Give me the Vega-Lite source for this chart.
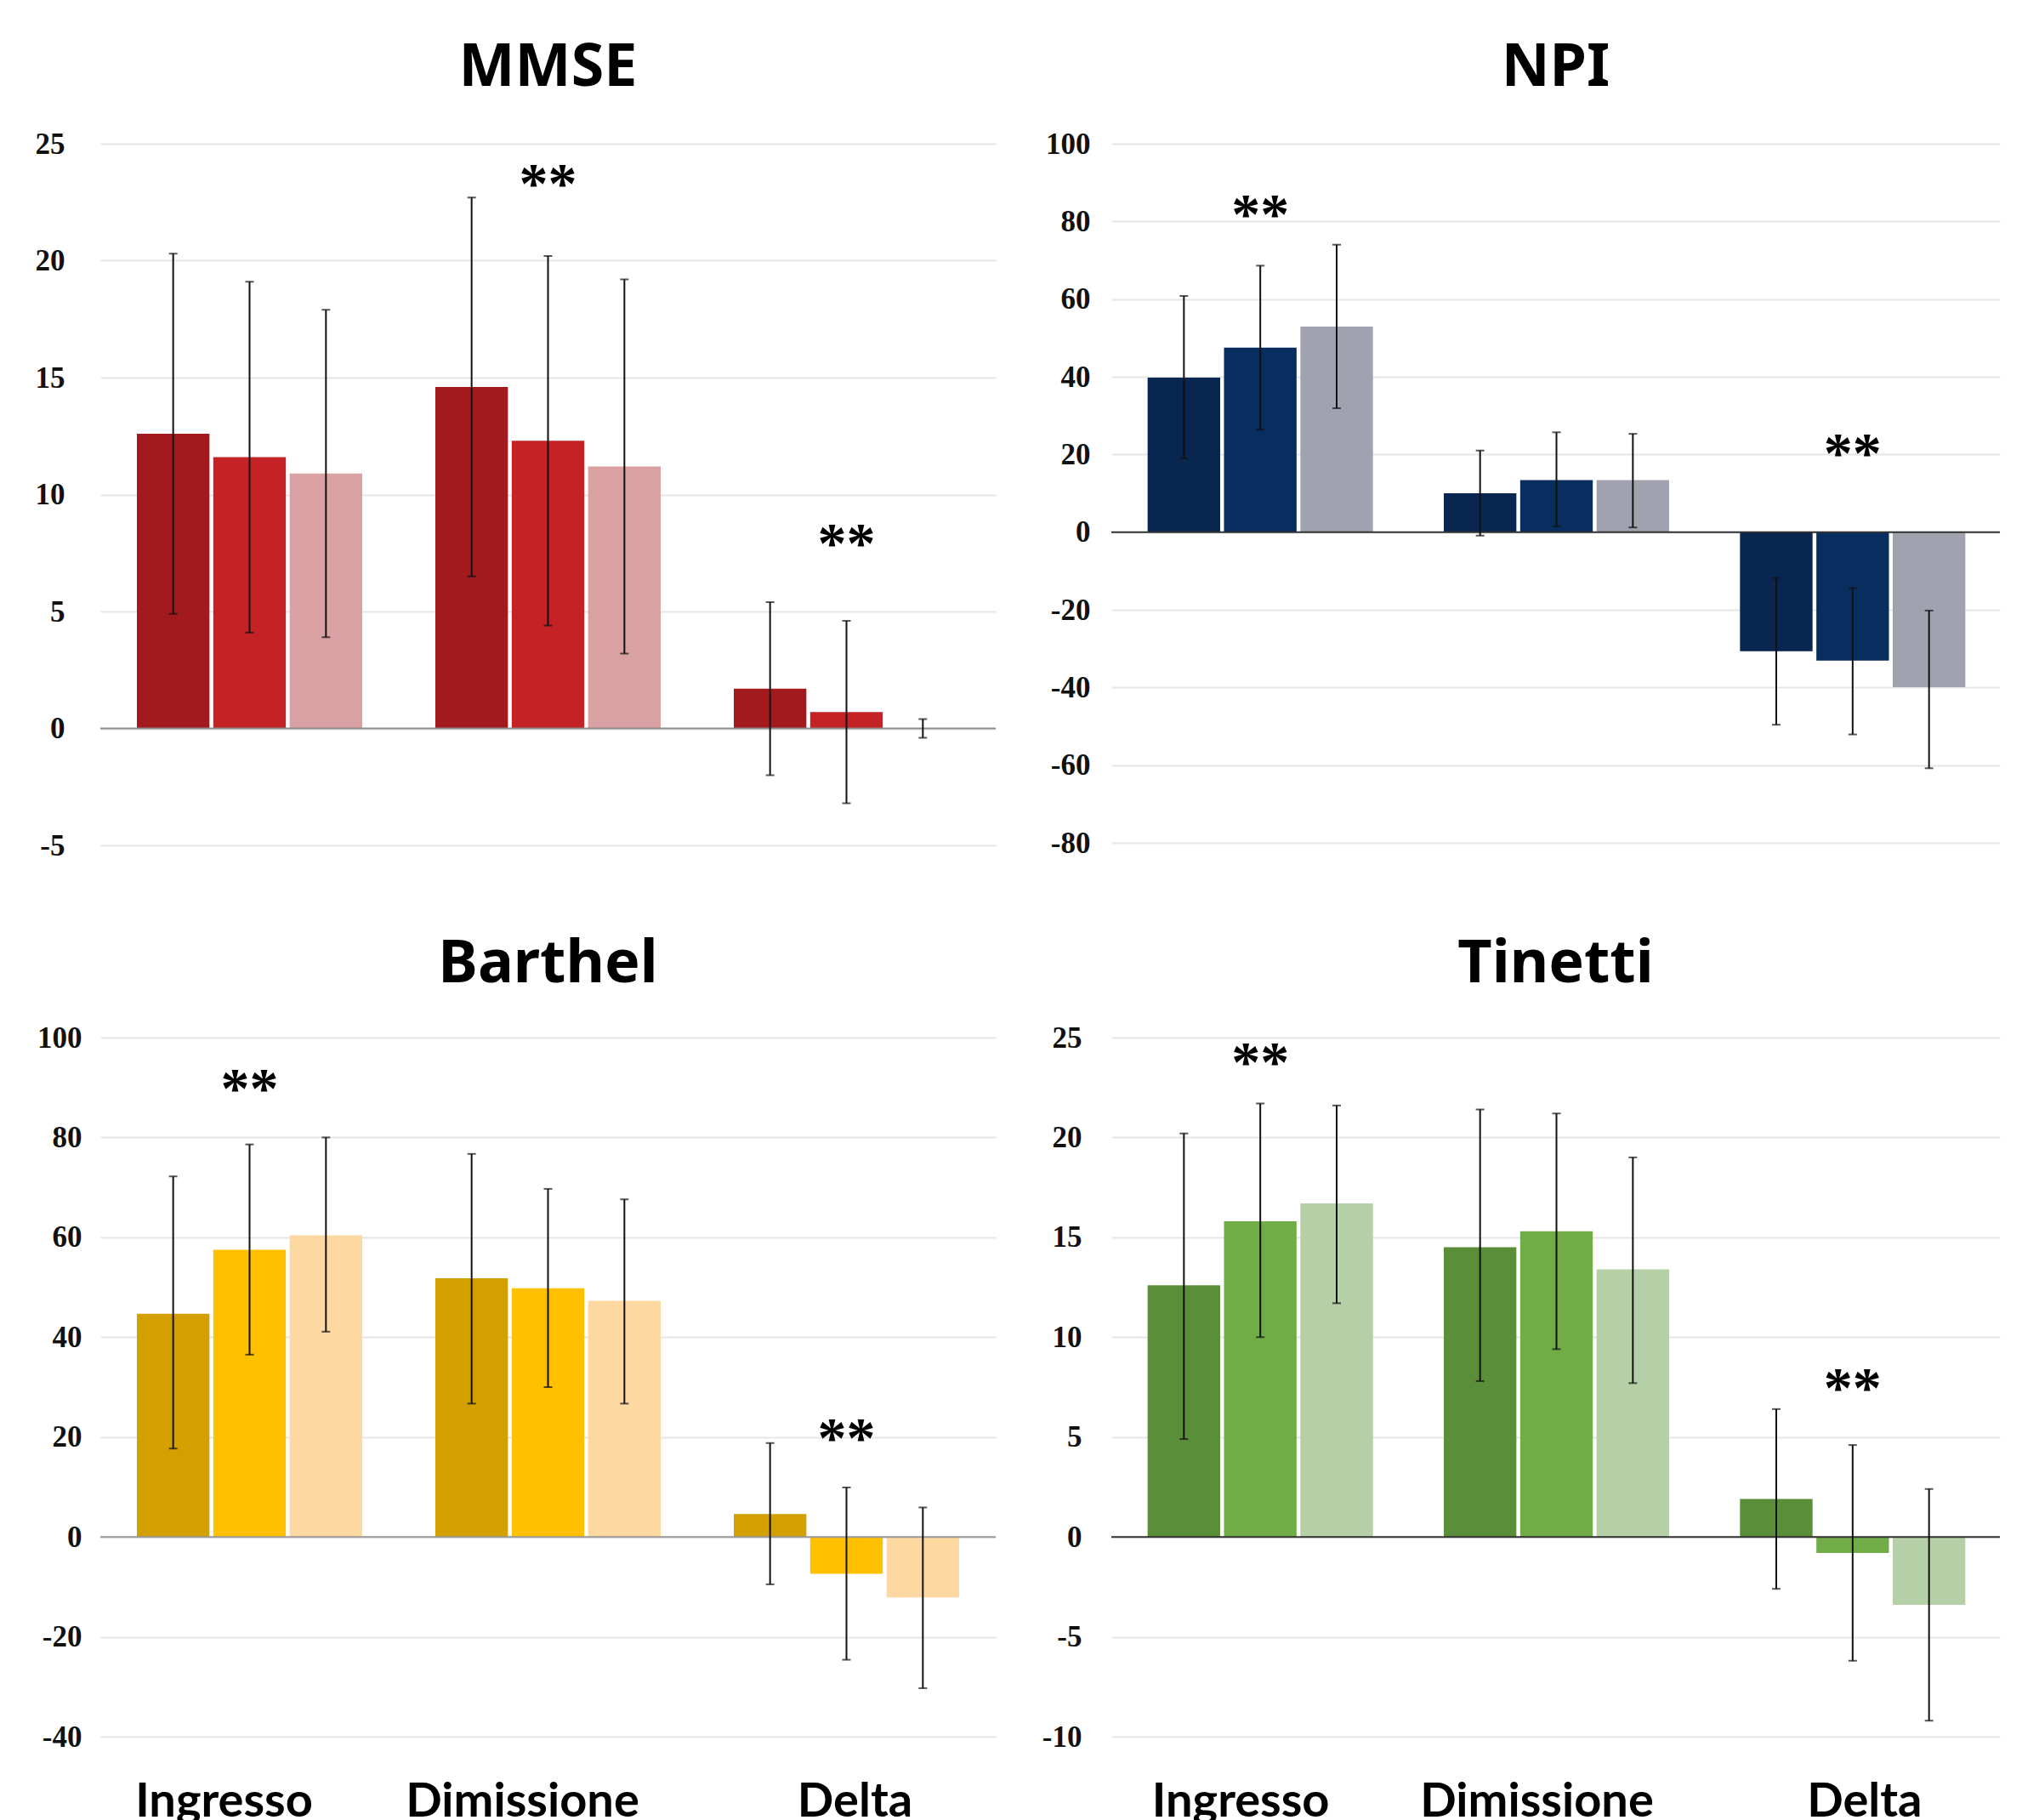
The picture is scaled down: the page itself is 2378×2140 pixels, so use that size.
{
  "$schema": "https://vega.github.io/schema/vega-lite/v6.json",
  "background": "white",
  "padding": {"left": 41, "top": 45, "right": 0, "bottom": 0},
  "datasets": {
    "valori": [
      {"scala":"MMSE","tempo":"Ingresso","gruppo":"G1","media":12.6,"lo":4.9,"hi":20.3},
      {"scala":"MMSE","tempo":"Ingresso","gruppo":"G2","media":11.6,"lo":4.1,"hi":19.1},
      {"scala":"MMSE","tempo":"Ingresso","gruppo":"G3","media":10.9,"lo":3.9,"hi":17.9},
      {"scala":"MMSE","tempo":"Dimissione","gruppo":"G1","media":14.6,"lo":6.5,"hi":22.7},
      {"scala":"MMSE","tempo":"Dimissione","gruppo":"G2","media":12.3,"lo":4.4,"hi":20.2},
      {"scala":"MMSE","tempo":"Dimissione","gruppo":"G3","media":11.2,"lo":3.2,"hi":19.2},
      {"scala":"MMSE","tempo":"Delta","gruppo":"G1","media":1.7,"lo":-2.0,"hi":5.4},
      {"scala":"MMSE","tempo":"Delta","gruppo":"G2","media":0.7,"lo":-3.2,"hi":4.6},
      {"scala":"MMSE","tempo":"Delta","gruppo":"G3","media":0,"lo":-0.4,"hi":0.4},
      {"scala":"NPI","tempo":"Ingresso","gruppo":"G1","media":39.8,"lo":19.0,"hi":60.8},
      {"scala":"NPI","tempo":"Ingresso","gruppo":"G2","media":47.5,"lo":26.4,"hi":68.6},
      {"scala":"NPI","tempo":"Ingresso","gruppo":"G3","media":52.9,"lo":31.9,"hi":74.0},
      {"scala":"NPI","tempo":"Dimissione","gruppo":"G1","media":10.0,"lo":-0.9,"hi":21.0},
      {"scala":"NPI","tempo":"Dimissione","gruppo":"G2","media":13.4,"lo":1.5,"hi":25.7},
      {"scala":"NPI","tempo":"Dimissione","gruppo":"G3","media":13.4,"lo":1.2,"hi":25.3},
      {"scala":"NPI","tempo":"Delta","gruppo":"G1","media":-30.7,"lo":-49.6,"hi":-11.8},
      {"scala":"NPI","tempo":"Delta","gruppo":"G2","media":-33.1,"lo":-52.1,"hi":-14.4},
      {"scala":"NPI","tempo":"Delta","gruppo":"G3","media":-39.9,"lo":-60.8,"hi":-20.2},
      {"scala":"Barthel","tempo":"Ingresso","gruppo":"G1","media":44.7,"lo":17.7,"hi":72.2},
      {"scala":"Barthel","tempo":"Ingresso","gruppo":"G2","media":57.5,"lo":36.5,"hi":78.6},
      {"scala":"Barthel","tempo":"Ingresso","gruppo":"G3","media":60.4,"lo":41.1,"hi":80.0},
      {"scala":"Barthel","tempo":"Dimissione","gruppo":"G1","media":51.8,"lo":26.7,"hi":76.7},
      {"scala":"Barthel","tempo":"Dimissione","gruppo":"G2","media":49.8,"lo":30.0,"hi":69.7},
      {"scala":"Barthel","tempo":"Dimissione","gruppo":"G3","media":47.3,"lo":26.7,"hi":67.6},
      {"scala":"Barthel","tempo":"Delta","gruppo":"G1","media":4.6,"lo":-9.5,"hi":18.8},
      {"scala":"Barthel","tempo":"Delta","gruppo":"G2","media":-7.4,"lo":-24.6,"hi":9.9},
      {"scala":"Barthel","tempo":"Delta","gruppo":"G3","media":-12.1,"lo":-30.3,"hi":5.9},
      {"scala":"Tinetti","tempo":"Ingresso","gruppo":"G1","media":12.6,"lo":4.9,"hi":20.2},
      {"scala":"Tinetti","tempo":"Ingresso","gruppo":"G2","media":15.8,"lo":10.0,"hi":21.7},
      {"scala":"Tinetti","tempo":"Ingresso","gruppo":"G3","media":16.7,"lo":11.7,"hi":21.6},
      {"scala":"Tinetti","tempo":"Dimissione","gruppo":"G1","media":14.5,"lo":7.8,"hi":21.4},
      {"scala":"Tinetti","tempo":"Dimissione","gruppo":"G2","media":15.3,"lo":9.4,"hi":21.2},
      {"scala":"Tinetti","tempo":"Dimissione","gruppo":"G3","media":13.4,"lo":7.7,"hi":19.0},
      {"scala":"Tinetti","tempo":"Delta","gruppo":"G1","media":1.9,"lo":-2.6,"hi":6.4},
      {"scala":"Tinetti","tempo":"Delta","gruppo":"G2","media":-0.8,"lo":-6.2,"hi":4.6},
      {"scala":"Tinetti","tempo":"Delta","gruppo":"G3","media":-3.4,"lo":-9.2,"hi":2.4}
    ],
    "stelle": [
      {"scala":"MMSE","tempo":"Dimissione","gruppo":"G2","y":23.6,"testo":"**"},
      {"scala":"MMSE","tempo":"Delta","gruppo":"G2","y":8.2,"testo":"**"},
      {"scala":"NPI","tempo":"Ingresso","gruppo":"G2","y":83.6,"testo":"**"},
      {"scala":"NPI","tempo":"Delta","gruppo":"G2","y":22.1,"testo":"**"},
      {"scala":"Barthel","tempo":"Ingresso","gruppo":"G2","y":91.2,"testo":"**"},
      {"scala":"Barthel","tempo":"Delta","gruppo":"G2","y":21.2,"testo":"**"},
      {"scala":"Tinetti","tempo":"Ingresso","gruppo":"G2","y":24.1,"testo":"**"},
      {"scala":"Tinetti","tempo":"Delta","gruppo":"G2","y":7.8,"testo":"**"}
    ],
    "zero": [{"v": 0}]
  },
  "config": {
    "view": {"stroke": null},
    "axisX": {"labelFont": "Lato", "labelFontWeight": "bold", "labelFontSize": 56, "labelColor": "#000", "labelPadding": 49, "labelLimit": 0, "ticks": false, "domain": false, "grid": false, "labelAngle": 0},
    "axisY": {"grid": true, "gridColor": "#e6e6e6", "gridWidth": 2, "domain": false, "ticks": false, "labelFont": "Liberation Serif", "labelFontWeight": "bold", "labelFontSize": 35, "labelColor": "#111", "labelPadding": 33, "labelExpr": "replace(datum.label, '\u2212', '-')"},
    "title": {"font": "Noto Sans", "fontSize": 70, "fontWeight": "bold", "color": "#000", "offset": 36}
  },
  "columns": 2,
  "align": {"row": "each", "column": "all"},
  "spacing": {"row": 87, "column": 53},
  "resolve": {"scale": {"color": "independent", "y": "independent", "x": "independent"}},
  "concat": [
    {
      "title": {"text": "MMSE"},
      "width": 1053, "height": 825,
      "layer": [
        {"data": {"name": "valori"}, "transform": [{"filter": "datum.scala === 'MMSE'"}],
         "mark": {"type": "bar"},
         "encoding": {
           "x": {"field": "tempo", "type": "nominal", "sort": ["Ingresso","Dimissione","Delta"], "title": null, "axis": null, "scale": {"paddingInner": 0.245, "paddingOuter": 0.1225}},
           "xOffset": {"field": "gruppo", "type": "nominal", "sort": ["G1","G2","G3"], "scale": {"paddingInner": 0.05, "paddingOuter": 0}},
           "y": {"field": "media", "type": "quantitative", "title": null, "scale": {"domain": [-5, 25], "nice": false}, "axis": {"values": [-5,0,5,10,15,20,25], "title": null, "labelPadding": 42}},
           "color": {"field": "gruppo", "type": "nominal", "scale": {"domain": ["G1","G2","G3"], "range": ["#A31A1E","#C52226","#D9A1A2"]}, "legend": null}
         }},
        {"data": {"name": "zero"}, "mark": {"type": "rule", "color": "#8c8c8c", "strokeWidth": 2}, "encoding": {"y": {"field": "v", "type": "quantitative", "title": null}}},
        {"data": {"name": "valori"}, "transform": [{"filter": "datum.scala === 'MMSE'"}],
         "mark": {"type": "rule", "color": "#111", "strokeWidth": 2},
         "encoding": {
           "x": {"field": "tempo", "type": "nominal", "sort": ["Ingresso","Dimissione","Delta"], "title": null, "axis": null},
           "xOffset": {"field": "gruppo", "type": "nominal", "sort": ["G1","G2","G3"]},
           "y": {"field": "lo", "type": "quantitative", "title": null}, "y2": {"field": "hi"}
         }},
        {"data": {"name": "valori"}, "transform": [{"filter": "datum.scala === 'MMSE'"}],
         "mark": {"type": "tick", "color": "#111", "thickness": 2, "size": 10},
         "encoding": {
           "x": {"field": "tempo", "type": "nominal", "sort": ["Ingresso","Dimissione","Delta"], "title": null, "axis": null},
           "xOffset": {"field": "gruppo", "type": "nominal", "sort": ["G1","G2","G3"]},
           "y": {"field": "lo", "type": "quantitative", "title": null}
         }},
        {"data": {"name": "valori"}, "transform": [{"filter": "datum.scala === 'MMSE'"}],
         "mark": {"type": "tick", "color": "#111", "thickness": 2, "size": 10},
         "encoding": {
           "x": {"field": "tempo", "type": "nominal", "sort": ["Ingresso","Dimissione","Delta"], "title": null, "axis": null},
           "xOffset": {"field": "gruppo", "type": "nominal", "sort": ["G1","G2","G3"]},
           "y": {"field": "hi", "type": "quantitative", "title": null}
         }},
        {"data": {"name": "stelle"}, "transform": [{"filter": "datum.scala === 'MMSE'"}],
         "mark": {"type": "text", "font": "Liberation Serif", "fontWeight": "bold", "fontSize": 68, "baseline": "middle", "align": "center", "dy": 10, "color": "#000"},
         "encoding": {
           "x": {"field": "tempo", "type": "nominal", "sort": ["Ingresso","Dimissione","Delta"], "title": null, "axis": null},
           "xOffset": {"field": "gruppo", "type": "nominal", "sort": ["G1","G2","G3"]},
           "y": {"field": "y", "type": "quantitative", "title": null},
           "text": {"field": "testo"}
         }}
      ]
    },
    {
      "title": {"text": "NPI"},
      "width": 1045, "height": 822,
      "layer": [
        {"data": {"name": "valori"}, "transform": [{"filter": "datum.scala === 'NPI'"}],
         "mark": {"type": "bar"},
         "encoding": {
           "x": {"field": "tempo", "type": "nominal", "sort": ["Ingresso","Dimissione","Delta"], "title": null, "axis": null, "scale": {"paddingInner": 0.245, "paddingOuter": 0.1225}},
           "xOffset": {"field": "gruppo", "type": "nominal", "sort": ["G1","G2","G3"], "scale": {"paddingInner": 0.05, "paddingOuter": 0}},
           "y": {"field": "media", "type": "quantitative", "title": null, "scale": {"domain": [-80, 100], "nice": false}, "axis": {"values": [-80,-60,-40,-20,0,20,40,60,80,100], "title": null, "labelPadding": 25}},
           "color": {"field": "gruppo", "type": "nominal", "scale": {"domain": ["G1","G2","G3"], "range": ["#082650","#082D5F","#A0A3AF"]}, "legend": null}
         }},
        {"data": {"name": "zero"}, "mark": {"type": "rule", "color": "#333", "strokeWidth": 2}, "encoding": {"y": {"field": "v", "type": "quantitative", "title": null}}},
        {"data": {"name": "valori"}, "transform": [{"filter": "datum.scala === 'NPI'"}],
         "mark": {"type": "rule", "color": "#111", "strokeWidth": 2},
         "encoding": {
           "x": {"field": "tempo", "type": "nominal", "sort": ["Ingresso","Dimissione","Delta"], "title": null, "axis": null},
           "xOffset": {"field": "gruppo", "type": "nominal", "sort": ["G1","G2","G3"]},
           "y": {"field": "lo", "type": "quantitative", "title": null}, "y2": {"field": "hi"}
         }},
        {"data": {"name": "valori"}, "transform": [{"filter": "datum.scala === 'NPI'"}],
         "mark": {"type": "tick", "color": "#111", "thickness": 2, "size": 10},
         "encoding": {
           "x": {"field": "tempo", "type": "nominal", "sort": ["Ingresso","Dimissione","Delta"], "title": null, "axis": null},
           "xOffset": {"field": "gruppo", "type": "nominal", "sort": ["G1","G2","G3"]},
           "y": {"field": "lo", "type": "quantitative", "title": null}
         }},
        {"data": {"name": "valori"}, "transform": [{"filter": "datum.scala === 'NPI'"}],
         "mark": {"type": "tick", "color": "#111", "thickness": 2, "size": 10},
         "encoding": {
           "x": {"field": "tempo", "type": "nominal", "sort": ["Ingresso","Dimissione","Delta"], "title": null, "axis": null},
           "xOffset": {"field": "gruppo", "type": "nominal", "sort": ["G1","G2","G3"]},
           "y": {"field": "hi", "type": "quantitative", "title": null}
         }},
        {"data": {"name": "stelle"}, "transform": [{"filter": "datum.scala === 'NPI'"}],
         "mark": {"type": "text", "font": "Liberation Serif", "fontWeight": "bold", "fontSize": 68, "baseline": "middle", "align": "center", "dy": 10, "color": "#000"},
         "encoding": {
           "x": {"field": "tempo", "type": "nominal", "sort": ["Ingresso","Dimissione","Delta"], "title": null, "axis": null},
           "xOffset": {"field": "gruppo", "type": "nominal", "sort": ["G1","G2","G3"]},
           "y": {"field": "y", "type": "quantitative", "title": null},
           "text": {"field": "testo"}
         }}
      ]
    },
    {
      "title": {"text": "Barthel", "offset": 33},
      "width": 1053, "height": 822,
      "layer": [
        {"data": {"name": "valori"}, "transform": [{"filter": "datum.scala === 'Barthel'"}],
         "mark": {"type": "bar"},
         "encoding": {
           "x": {"field": "tempo", "type": "nominal", "sort": ["Ingresso","Dimissione","Delta"], "title": null, "scale": {"paddingInner": 0.245, "paddingOuter": 0.1225}, "axis": {"labelOffset": {"condition": {"test": "datum.value === 'Delta'", "value": 10}, "value": -30}}},
           "xOffset": {"field": "gruppo", "type": "nominal", "sort": ["G1","G2","G3"], "scale": {"paddingInner": 0.05, "paddingOuter": 0}},
           "y": {"field": "media", "type": "quantitative", "title": null, "scale": {"domain": [-40, 100], "nice": false}, "axis": {"values": [-40,-20,0,20,40,60,80,100], "title": null, "labelPadding": 22}},
           "color": {"field": "gruppo", "type": "nominal", "scale": {"domain": ["G1","G2","G3"], "range": ["#D3A000","#FFC000","#FDD8A0"]}, "legend": null}
         }},
        {"data": {"name": "zero"}, "mark": {"type": "rule", "color": "#999", "strokeWidth": 2}, "encoding": {"y": {"field": "v", "type": "quantitative", "title": null}}},
        {"data": {"name": "valori"}, "transform": [{"filter": "datum.scala === 'Barthel'"}],
         "mark": {"type": "rule", "color": "#111", "strokeWidth": 2},
         "encoding": {
           "x": {"field": "tempo", "type": "nominal", "sort": ["Ingresso","Dimissione","Delta"], "title": null},
           "xOffset": {"field": "gruppo", "type": "nominal", "sort": ["G1","G2","G3"]},
           "y": {"field": "lo", "type": "quantitative", "title": null}, "y2": {"field": "hi"}
         }},
        {"data": {"name": "valori"}, "transform": [{"filter": "datum.scala === 'Barthel'"}],
         "mark": {"type": "tick", "color": "#111", "thickness": 2, "size": 10},
         "encoding": {
           "x": {"field": "tempo", "type": "nominal", "sort": ["Ingresso","Dimissione","Delta"], "title": null},
           "xOffset": {"field": "gruppo", "type": "nominal", "sort": ["G1","G2","G3"]},
           "y": {"field": "lo", "type": "quantitative", "title": null}
         }},
        {"data": {"name": "valori"}, "transform": [{"filter": "datum.scala === 'Barthel'"}],
         "mark": {"type": "tick", "color": "#111", "thickness": 2, "size": 10},
         "encoding": {
           "x": {"field": "tempo", "type": "nominal", "sort": ["Ingresso","Dimissione","Delta"], "title": null},
           "xOffset": {"field": "gruppo", "type": "nominal", "sort": ["G1","G2","G3"]},
           "y": {"field": "hi", "type": "quantitative", "title": null}
         }},
        {"data": {"name": "stelle"}, "transform": [{"filter": "datum.scala === 'Barthel'"}],
         "mark": {"type": "text", "font": "Liberation Serif", "fontWeight": "bold", "fontSize": 68, "baseline": "middle", "align": "center", "dy": 10, "color": "#000"},
         "encoding": {
           "x": {"field": "tempo", "type": "nominal", "sort": ["Ingresso","Dimissione","Delta"], "title": null},
           "xOffset": {"field": "gruppo", "type": "nominal", "sort": ["G1","G2","G3"]},
           "y": {"field": "y", "type": "quantitative", "title": null},
           "text": {"field": "testo"}
         }}
      ]
    },
    {
      "title": {"text": "Tinetti", "offset": 33},
      "width": 1045, "height": 822,
      "layer": [
        {"data": {"name": "valori"}, "transform": [{"filter": "datum.scala === 'Tinetti'"}],
         "mark": {"type": "bar"},
         "encoding": {
           "x": {"field": "tempo", "type": "nominal", "sort": ["Ingresso","Dimissione","Delta"], "title": null, "scale": {"paddingInner": 0.245, "paddingOuter": 0.1225}, "axis": {"labelOffset": {"condition": {"test": "datum.value === 'Delta'", "value": 15}, "value": -22}}},
           "xOffset": {"field": "gruppo", "type": "nominal", "sort": ["G1","G2","G3"], "scale": {"paddingInner": 0.05, "paddingOuter": 0}},
           "y": {"field": "media", "type": "quantitative", "title": null, "scale": {"domain": [-10, 25], "nice": false}, "axis": {"values": [-10,-5,0,5,10,15,20,25], "title": null, "labelPadding": 35}},
           "color": {"field": "gruppo", "type": "nominal", "scale": {"domain": ["G1","G2","G3"], "range": ["#5B8E38","#70AD47","#B5CFA6"]}, "legend": null}
         }},
        {"data": {"name": "zero"}, "mark": {"type": "rule", "color": "#333", "strokeWidth": 2}, "encoding": {"y": {"field": "v", "type": "quantitative", "title": null}}},
        {"data": {"name": "valori"}, "transform": [{"filter": "datum.scala === 'Tinetti'"}],
         "mark": {"type": "rule", "color": "#111", "strokeWidth": 2},
         "encoding": {
           "x": {"field": "tempo", "type": "nominal", "sort": ["Ingresso","Dimissione","Delta"], "title": null},
           "xOffset": {"field": "gruppo", "type": "nominal", "sort": ["G1","G2","G3"]},
           "y": {"field": "lo", "type": "quantitative", "title": null}, "y2": {"field": "hi"}
         }},
        {"data": {"name": "valori"}, "transform": [{"filter": "datum.scala === 'Tinetti'"}],
         "mark": {"type": "tick", "color": "#111", "thickness": 2, "size": 10},
         "encoding": {
           "x": {"field": "tempo", "type": "nominal", "sort": ["Ingresso","Dimissione","Delta"], "title": null},
           "xOffset": {"field": "gruppo", "type": "nominal", "sort": ["G1","G2","G3"]},
           "y": {"field": "lo", "type": "quantitative", "title": null}
         }},
        {"data": {"name": "valori"}, "transform": [{"filter": "datum.scala === 'Tinetti'"}],
         "mark": {"type": "tick", "color": "#111", "thickness": 2, "size": 10},
         "encoding": {
           "x": {"field": "tempo", "type": "nominal", "sort": ["Ingresso","Dimissione","Delta"], "title": null},
           "xOffset": {"field": "gruppo", "type": "nominal", "sort": ["G1","G2","G3"]},
           "y": {"field": "hi", "type": "quantitative", "title": null}
         }},
        {"data": {"name": "stelle"}, "transform": [{"filter": "datum.scala === 'Tinetti'"}],
         "mark": {"type": "text", "font": "Liberation Serif", "fontWeight": "bold", "fontSize": 68, "baseline": "middle", "align": "center", "dy": 10, "color": "#000"},
         "encoding": {
           "x": {"field": "tempo", "type": "nominal", "sort": ["Ingresso","Dimissione","Delta"], "title": null},
           "xOffset": {"field": "gruppo", "type": "nominal", "sort": ["G1","G2","G3"]},
           "y": {"field": "y", "type": "quantitative", "title": null},
           "text": {"field": "testo"}
         }}
      ]
    }
  ]
}
